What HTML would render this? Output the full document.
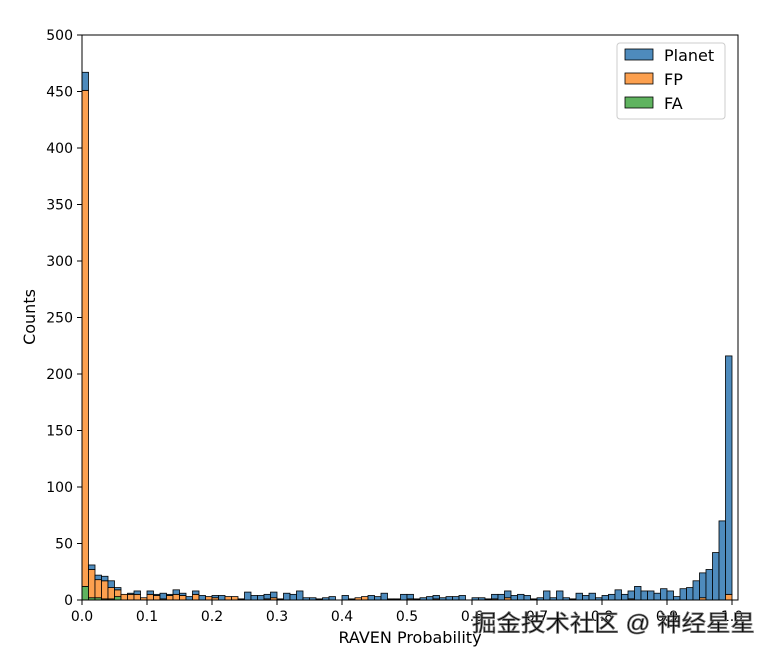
<!DOCTYPE html>
<html><head><meta charset="utf-8"><style>
body{margin:0;background:#fff;width:776px;height:656px;overflow:hidden}
text{font-family:"DejaVu Sans","Liberation Sans",sans-serif;fill:#000}
</style></head><body>
<svg id="s" width="776" height="656" xmlns="http://www.w3.org/2000/svg"></svg>
<script>
const T=[467,31,22,21,17,11,5,6,8,2,8,5,6,5,9,6,3,8,4,3,4,4,3,3,1,7,4,4,5,7,1,6,5,8,2,2,1,2,3,0,4,1,2,3,4,3,6,1,1,5,
5,1,2,3,4,2,3,3,4,0,2,2,1,5,5,8,4,5,4,1,2,8,2,8,2,1,6,4,6,2,4,5,9,5,8,12,8,8,6,10,8,3,10,11,17,24,27,42,70,216];
const F={0:451,1:27,2:18,3:17,4:11,5:9,6:5,7:5,8:5,9:2,10:5,11:4,12:1,13:4,14:5,15:4,17:5,19:3,20:2,22:3,23:3,28:1,29:2,42:2,43:3,50:1,54:1,63:1,65:2,84:1,95:2,99:5};
const A={0:12,1:2,2:2,3:1,4:1,5:3};
const X0=82,W=6.5,B=600,K=1.13;
let h='';
for(let i=0;i<100;i++){
 const a=A[i]||0,f=F[i]||0,t=T[i],x=X0+i*W;
 let y=B;
 const seg=(c,col)=>{if(c<=0)return;const hh=c*K;h+=`<rect x="${x}" y="${y-hh}" width="${W}" height="${hh}" fill="${col}" stroke="#000" stroke-width="0.8"/>`;y-=hh;};
 seg(a,'#5fb35f');seg(f-a>0?f-a:0,'#fca04f');seg(t-Math.max(f,a),'#4e8bbd');
 if(t>0&&t<=1) h+=`<line x1="${x}" x2="${x+W}" y1="${B-0.5}" y2="${B-0.5}" stroke="#000" stroke-width="1.5"/>`;
}
h+=`<rect x="82" y="35" width="656" height="565" fill="none" stroke="#000" stroke-width="1"/>`;
for(let v=0;v<=500;v+=50){const y=B-v*K;h+=`<line x1="77" x2="82" y1="${y}" y2="${y}" stroke="#000"/><text x="73" y="${y+5}" font-size="14" text-anchor="end">${v}</text>`;}
for(let k=0;k<=10;k++){const x=X0+k*65;h+=`<line x1="${x}" x2="${x}" y1="600" y2="605" stroke="#000"/><text x="${x}" y="621" font-size="14" text-anchor="middle">${(k/10).toFixed(1)}</text>`;}
h+=`<text x="410" y="643" font-size="16" text-anchor="middle">RAVEN Probability</text>`;
h+=`<text transform="translate(35,317) rotate(-90)" font-size="16" text-anchor="middle">Counts</text>`;
h+=`<rect x="617" y="43" width="108" height="76" rx="3" fill="#fff" stroke="#ccc"/>`;
[['Planet','#4e8bbd'],['FP','#fca04f'],['FA','#5fb35f']].forEach((d,i)=>{const y=49+i*24;h+=`<rect x="625" y="${y}" width="28" height="11" fill="${d[1]}" stroke="#000" stroke-width="0.8"/><text x="664" y="${y+12}" font-size="16">${d[0]}</text>`;});
h+=`<text x="472" y="631" font-size="23" fill="#fff" stroke="#777" stroke-width="0.8" textLength="283" lengthAdjust="spacingAndGlyphs" style="font-family:'Liberation Sans','Noto Sans CJK SC',sans-serif">掘金技术社区 @ 神经星星</text>`;
document.getElementById('s').innerHTML=h;
</script>
</body></html>
